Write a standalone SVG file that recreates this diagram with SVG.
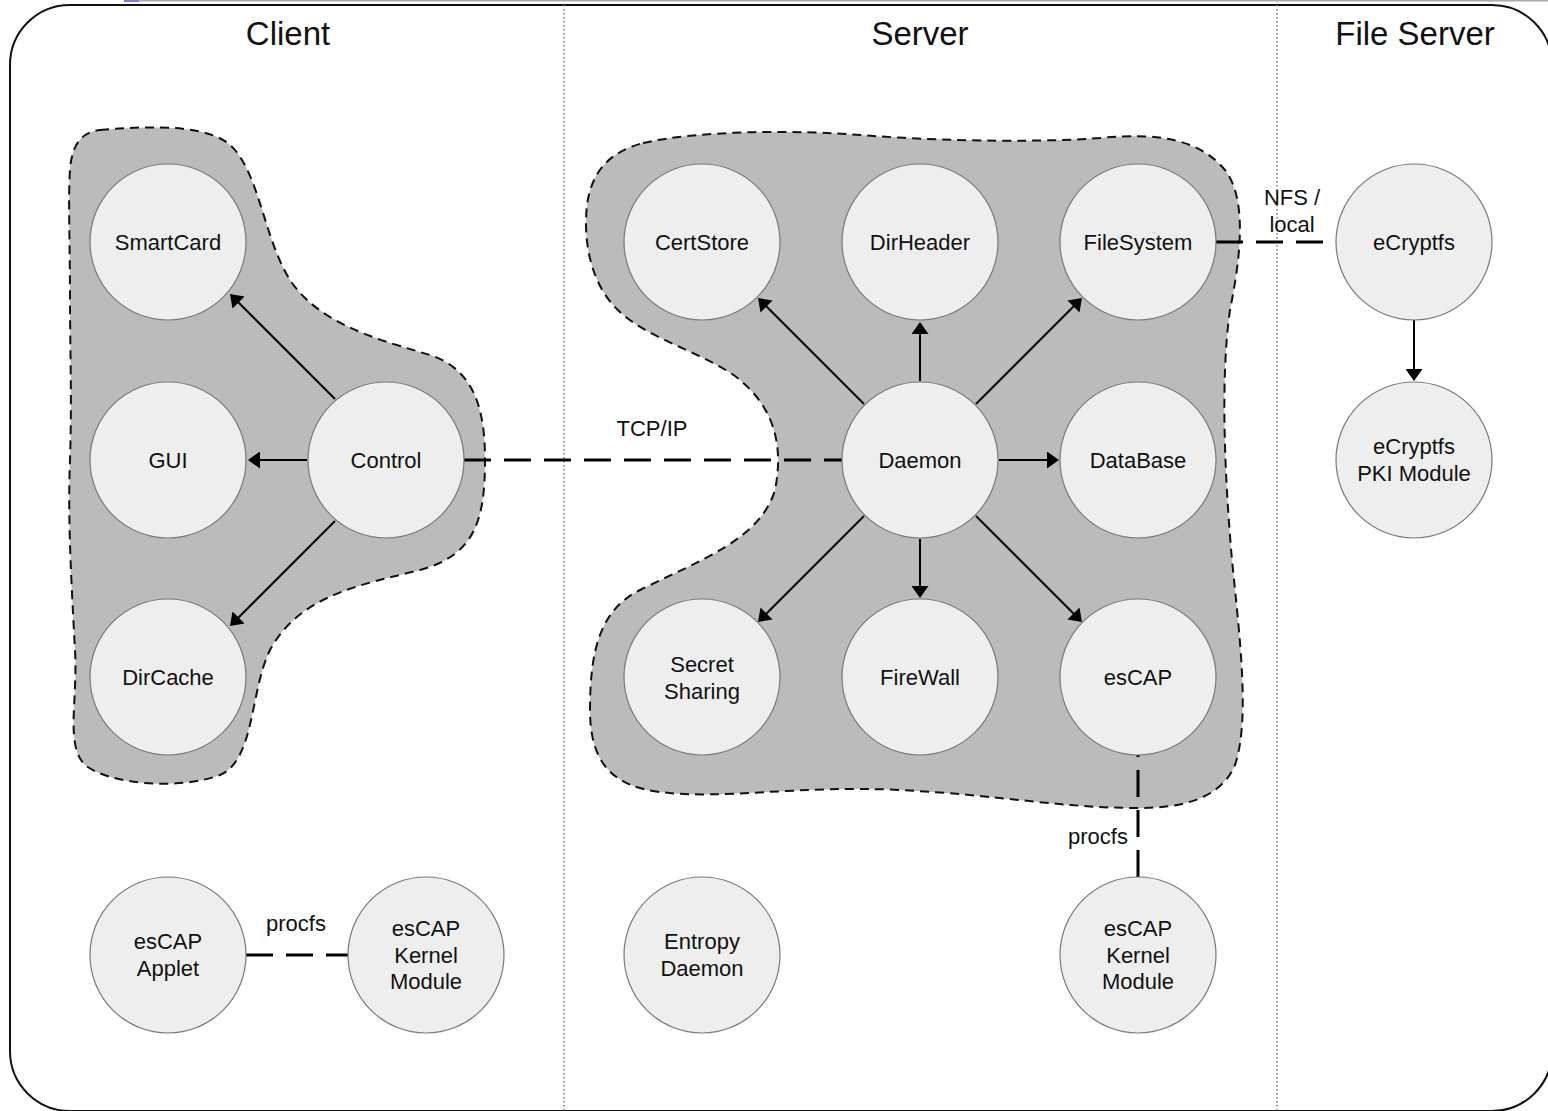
<svg xmlns="http://www.w3.org/2000/svg" width="1548" height="1111" viewBox="0 0 1548 1111">
  <style>
    .node circle { fill: #eeeeee; stroke: #7a7a7a; stroke-width: 1.2; }
    .node text, .lbl { font-family: "Liberation Sans", Arial, sans-serif; font-size: 22px; fill: #111; text-anchor: middle; }
    .title { font-family: "Liberation Sans", Arial, sans-serif; font-size: 33px; fill: #111; text-anchor: middle; }
    .blob { fill: #bbbbbb; stroke: #111; stroke-width: 2; stroke-dasharray: 9 6; }
    .arrow { stroke: #000; stroke-width: 2; fill: none; marker-end: url(#head); }
    .link { stroke: #000; stroke-width: 3; fill: none; stroke-dasharray: 27 13; }
    .divider { stroke: #777; stroke-width: 1.5; stroke-dasharray: 1.5 2.5; }
  </style>
  <defs>
    <marker id="head" viewBox="0 0 12 17" refX="1" refY="8.5" markerWidth="12" markerHeight="17" markerUnits="userSpaceOnUse" orient="auto">
      <path d="M0,0 L12,8.5 L0,17 Z" fill="#000"/>
    </marker>
  </defs>

  <rect x="0" y="0" width="1548" height="1111" fill="#fff"/>
  <!-- window strip along the top edge -->
  <rect x="124" y="0" width="1424" height="1.5" fill="#aaaaaa"/>
  <rect x="124" y="0" width="15" height="2" fill="#7c7ce0"/>

  <!-- outer frame -->
  <rect x="10" y="5" width="1542" height="1106" rx="60" ry="60" fill="none" stroke="#111" stroke-width="2"/>

  <!-- column dividers -->
  <g id="dividers">
    <line class="divider" x1="564" y1="5" x2="564" y2="1111"/>
    <line class="divider" x1="1277" y1="5" x2="1277" y2="1111"/>
  </g>

  <!-- column titles -->
  <text class="title" x="288" y="45">Client</text>
  <text class="title" x="920" y="45">Server</text>
  <text class="title" x="1415" y="45">File Server</text>

  <!-- grouping regions -->
  <g id="client-group">
    <path class="blob" d="M100,130 C160,125 215,125 235,150 C260,180 265,240 290,280 C320,325 380,340 430,355 C475,370 485,410 485,460 C485,520 475,555 420,570 C360,585 300,595 270,650 C250,690 255,760 220,775 C180,790 110,785 85,765 C65,745 78,700 75,650 C70,560 68,510 70,460 C72,400 70,350 70,300 C70,240 68,200 70,170 C72,140 85,132 100,130 Z"/>
  </g>
  <g id="server-group">
    <path class="blob" d="M643,143 C700,130 800,130 860,135 C950,142 1050,142 1100,138 C1160,132 1200,140 1225,170 C1248,200 1240,260 1230,310 C1220,380 1225,480 1232,560 C1240,640 1250,720 1235,765 C1220,800 1180,808 1138,808 C1060,808 1000,795 900,790 C800,785 720,800 660,792 C610,786 590,760 590,710 C590,650 600,610 640,590 C700,560 760,540 775,490 C785,440 770,405 740,380 C710,355 650,340 620,312 C590,285 583,240 587,205 C592,170 610,152 643,143 Z"/>
  </g>

  <!-- connectors -->
  <g id="connectors">
    <line class="arrow" x1="335" y1="399" x2="237.8" y2="301.8"/>
    <line class="arrow" x1="307" y1="460" x2="259" y2="460"/>
    <line class="arrow" x1="335" y1="521" x2="237.8" y2="618.2"/>
    <line class="arrow" x1="864" y1="404" x2="765.8" y2="305.8"/>
    <line class="arrow" x1="920" y1="381" x2="920" y2="333"/>
    <line class="arrow" x1="976" y1="404" x2="1074.2" y2="305.8"/>
    <line class="arrow" x1="999" y1="460" x2="1048" y2="460"/>
    <line class="arrow" x1="920" y1="539" x2="920" y2="587"/>
    <line class="arrow" x1="864" y1="516" x2="765.8" y2="614.2"/>
    <line class="arrow" x1="976" y1="516" x2="1074.2" y2="614.2"/>
    <line class="arrow" x1="1414" y1="320" x2="1414" y2="370"/>

    <line class="link" x1="464" y1="460" x2="842" y2="460"/>
    <line class="link" x1="1216" y1="242" x2="1336" y2="242"/>
    <line class="link" x1="1138" y1="877" x2="1138" y2="755"/>
    <line class="link" x1="246" y1="955" x2="348" y2="955"/>

    <text class="lbl" x="652" y="436">TCP/IP</text>
    <text class="lbl" x="1292" y="205">NFS /</text>
    <text class="lbl" x="1292" y="232">local</text>
    <text class="lbl" x="1098" y="844">procfs</text>
    <text class="lbl" x="296" y="931">procfs</text>
  </g>

  <!-- client nodes -->
  <g id="smartcard" class="node"><circle cx="168" cy="242" r="78"/><text x="168" y="250">SmartCard</text></g>
  <g id="gui" class="node"><circle cx="168" cy="460" r="78"/><text x="168" y="468">GUI</text></g>
  <g id="control" class="node"><circle cx="386" cy="460" r="78"/><text x="386" y="468">Control</text></g>
  <g id="dircache" class="node"><circle cx="168" cy="677" r="78"/><text x="168" y="685">DirCache</text></g>
  <g id="escap-applet" class="node"><circle cx="168" cy="955" r="78"/><text x="168" y="949">esCAP</text><text x="168" y="976">Applet</text></g>
  <g id="escap-kernel-client" class="node"><circle cx="426" cy="955" r="78"/><text x="426" y="936">esCAP</text><text x="426" y="963">Kernel</text><text x="426" y="989">Module</text></g>

  <!-- server nodes -->
  <g id="certstore" class="node"><circle cx="702" cy="242" r="78"/><text x="702" y="250">CertStore</text></g>
  <g id="dirheader" class="node"><circle cx="920" cy="242" r="78"/><text x="920" y="250">DirHeader</text></g>
  <g id="filesystem" class="node"><circle cx="1138" cy="242" r="78"/><text x="1138" y="250">FileSystem</text></g>
  <g id="daemon" class="node"><circle cx="920" cy="460" r="78"/><text x="920" y="468">Daemon</text></g>
  <g id="database" class="node"><circle cx="1138" cy="460" r="78"/><text x="1138" y="468">DataBase</text></g>
  <g id="secret-sharing" class="node"><circle cx="702" cy="677" r="78"/><text x="702" y="672">Secret</text><text x="702" y="699">Sharing</text></g>
  <g id="firewall" class="node"><circle cx="920" cy="677" r="78"/><text x="920" y="685">FireWall</text></g>
  <g id="escap" class="node"><circle cx="1138" cy="677" r="78"/><text x="1138" y="685">esCAP</text></g>
  <g id="entropy-daemon" class="node"><circle cx="702" cy="955" r="78"/><text x="702" y="949">Entropy</text><text x="702" y="976">Daemon</text></g>
  <g id="escap-kernel-server" class="node"><circle cx="1138" cy="955" r="78"/><text x="1138" y="936">esCAP</text><text x="1138" y="963">Kernel</text><text x="1138" y="989">Module</text></g>

  <!-- file server nodes -->
  <g id="ecryptfs" class="node"><circle cx="1414" cy="242" r="78"/><text x="1414" y="250">eCryptfs</text></g>
  <g id="ecryptfs-pki" class="node"><circle cx="1414" cy="460" r="78"/><text x="1414" y="454">eCryptfs</text><text x="1414" y="481">PKI Module</text></g>
</svg>
